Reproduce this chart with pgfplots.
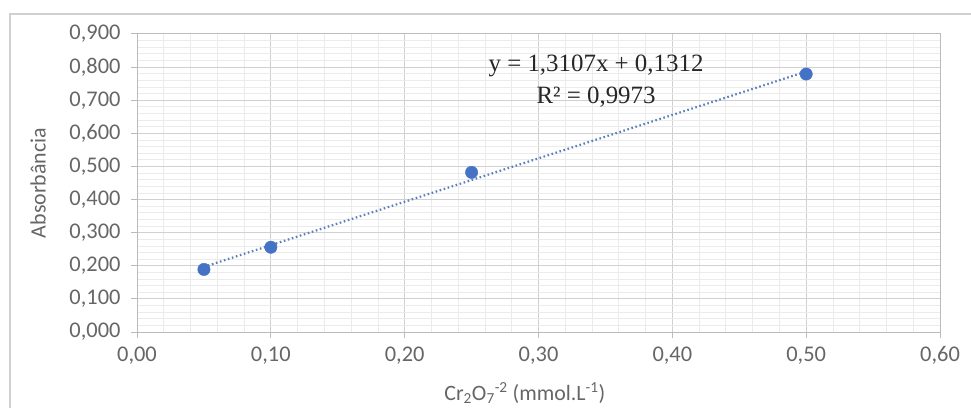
\documentclass[border=0pt]{standalone}
\usepackage{pgfplots}
\pgfplotsset{compat=1.18}
\usepackage{fontspec}
\setmainfont{Carlito}
\newfontfamily\timesf{Liberation Serif}
\definecolor{tickgray}{HTML}{666666}
\definecolor{majgrid}{HTML}{D0D0D0}
\definecolor{mingrid}{HTML}{EBEBEB}
\definecolor{exblue}{HTML}{4472C4}
\definecolor{trend}{HTML}{5B7DBF}
\begin{document}
\begin{tikzpicture}[x=1bp,y=1bp]
\begin{axis}[
  at={(137bp,75bp)}, anchor=south west,
  scale only axis, width=803bp, height=298bp,
  xmin=0, xmax=0.6, ymin=0, ymax=0.9,
  xtick distance=0.1, ytick distance=0.1,
  minor x tick num=4, minor y tick num=4,
  grid=both,
  major grid style={majgrid, line width=1bp},
  minor grid style={mingrid, line width=0.8bp},
  axis line style={majgrid!90!black, line width=1bp},
  tick align=outside, major tick length=6bp, minor tick length=0pt,
  xtick pos=bottom, ytick pos=left,
  tick style={majgrid!90!black, line width=1bp},
  xticklabel={\pgfmathprintnumber[fixed,fixed zerofill,precision=2,use comma,assume math mode=true]{\tick}},
  yticklabel={\pgfmathprintnumber[fixed,fixed zerofill,precision=3,use comma,assume math mode=true]{\tick}},
  ticklabel style={font=\fontsize{22.5}{24}\selectfont, text=tickgray},
  xticklabel style={yshift=-5bp},
  yticklabel style={xshift=-7bp},
  xlabel={Cr\textsubscript{2}O\textsubscript{7}\textsuperscript{-2} (mmol.L\textsuperscript{-1})},
  ylabel={Absorbância},
  label style={font=\fontsize{22}{24}\selectfont, text=tickgray},
  xlabel style={at={(rel axis cs:0.483,0)}, anchor=center, yshift=-61bp},
  ylabel style={at={(rel axis cs:0,0.5)}, anchor=center, yshift=99bp},
]
\addplot[trend, line width=2.2bp, dash pattern=on 1.6bp off 2.6bp] coordinates {(0.05,0.1967) (0.50,0.7866)};
\addplot[only marks, mark=*, mark size=6.2bp, mark options={fill=exblue, draw=exblue}] coordinates {
  (0.05,0.189) (0.10,0.256) (0.25,0.482) (0.50,0.779)};
\node[align=center, font=\timesf\fontsize{25}{32}\selectfont, text=black!85] at (axis cs:0.343,0.758)
  {y = 1,3107x + 0,1312\\R² = 0,9973};
\end{axis}
\draw[majgrid, line width=1.5bp] (10,-30) rectangle (1010,393);
\pgfresetboundingbox
\useasboundingbox (0,0) rectangle (971,407);
\end{tikzpicture}
\end{document}
